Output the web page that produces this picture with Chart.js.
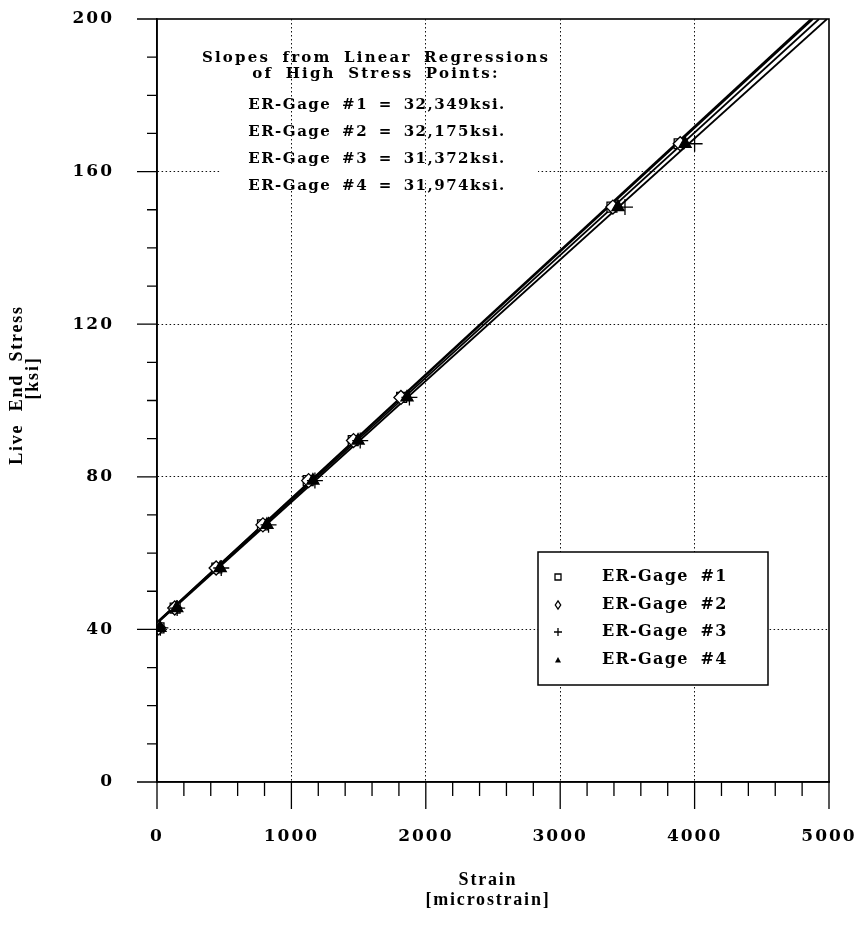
<!DOCTYPE html>
<html>
<head>
<meta charset="utf-8">
<script src="https://cdn.jsdelivr.net/npm/chart.js@4.4.0/dist/chart.umd.min.js"></script>
<style>
html,body{margin:0;padding:0;background:#fff;}
#wrap{width:858px;height:927px;position:relative;}
</style>
</head>
<body>
<div id="wrap"><canvas id="c" width="858" height="927"></canvas></div>
<script>
// ---------- data ----------
const stress = [40.4, 45.6, 56.1, 67.4, 79.0, 89.5, 100.8, 150.7, 167.3];   // ksi
const gage1Strain = [15, 135, 445, 785, 1125, 1460, 1820, 3385, 3885];
const gage2Strain = [12, 132, 440, 788, 1128, 1462, 1815, 3392, 3893];
const gage3Strain = [25, 150, 478, 830, 1175, 1512, 1878, 3482, 4000];
const gage4Strain = [22, 147, 470, 818, 1160, 1496, 1860, 3430, 3929];

// regression line end points (strain, stress)
const fit1 = [[0, 41.9], [4866, 200]];
const fit2 = [[0, 41.8], [4880, 200]];
const fit3 = [[0, 41.6], [4985, 200]];
const fit4 = [[0, 41.7], [4926, 200]];

const gageNames = ['ER-Gage #1', 'ER-Gage #2', 'ER-Gage #3', 'ER-Gage #4'];
const slopeValues = ['32,349ksi.', '32,175ksi.', '31,372ksi.', '31,974ksi.'];
const annotTitle = ['Slopes from Linear Regressions', 'of High Stress Points:'];

const strainTicks = [0, 1000, 2000, 3000, 4000, 5000];
const stressTicks = [0, 40, 80, 120, 160, 200];
const xTitle = ['Strain', '[microstrain]'];
const yTitle = ['Live End Stress', '[ksi]'];

// ---------- helpers ----------
const NUMFONT = '"DejaVu Serif", serif';
const TFONT = '"Liberation Serif", "DejaVu Serif", serif';
const toPts = (xs) => xs.map((x, i) => ({x: x, y: stress[i]}));
const toLine = (arr) => arr.map(p => ({x: p[0], y: p[1]}));

function marker(ctx, style, x, y, r) {
  ctx.save();
  ctx.strokeStyle = '#000';
  ctx.fillStyle = '#000';
  ctx.lineWidth = 1.3;
  ctx.beginPath();
  if (style === 'rect') {
    ctx.rect(x - r, y - r, 2 * r, 2 * r);
    ctx.fillStyle = '#fff'; ctx.fill(); ctx.stroke();
  } else if (style === 'rectRot') {
    ctx.moveTo(x, y - r * 1.35); ctx.lineTo(x + r * 0.9, y); ctx.lineTo(x, y + r * 1.35); ctx.lineTo(x - r * 0.9, y); ctx.closePath();
    ctx.fillStyle = '#fff'; ctx.fill(); ctx.stroke();
  } else if (style === 'cross') {
    ctx.moveTo(x - r, y); ctx.lineTo(x + r, y); ctx.moveTo(x, y - r); ctx.lineTo(x, y + r); ctx.stroke();
  } else if (style === 'triangle') {
    ctx.moveTo(x, y - r); ctx.lineTo(x + r, y + r * 0.8); ctx.lineTo(x - r, y + r * 0.8); ctx.closePath(); ctx.fill();
  }
  ctx.restore();
}

const styles = ['rect', 'rectRot', 'cross', 'triangle'];

const decor = {
  id: 'decor',
  beforeDraw(chart) {
    chart.ctx.letterSpacing = '2px';
  },
  afterDraw(chart) {
    const ctx = chart.ctx;
    const a = chart.chartArea;
    const xs = chart.scales.x, ys = chart.scales.y;
    ctx.save();
    ctx.letterSpacing = '0px';
    // frame
    ctx.strokeStyle = '#000';
    ctx.lineWidth = 1.6;
    ctx.strokeRect(a.left, a.top, a.right - a.left, a.bottom - a.top);
    // ticks
    ctx.lineWidth = 1.3;
    ctx.beginPath();
    for (let v = ys.min; v <= ys.max; v += 10) {
      const py = ys.getPixelForValue(v);
      const len = (v % 40 === 0) ? 20 : 10;
      ctx.moveTo(a.left - len, py); ctx.lineTo(a.left, py);
    }
    for (let v = xs.min; v <= xs.max; v += 200) {
      const px = xs.getPixelForValue(v);
      const len = (v % 1000 === 0) ? 27 : 14;
      ctx.moveTo(px, a.bottom); ctx.lineTo(px, a.bottom + len);
    }
    ctx.stroke();

    // axis titles
    ctx.fillStyle = '#000';
    ctx.font = 'bold 18px ' + TFONT;
    ctx.letterSpacing = '1.8px';
    ctx.wordSpacing = '6px';
    ctx.textAlign = 'center';
    ctx.textBaseline = 'middle';
    ctx.fillText(xTitle[0], 488, 880);
    ctx.fillText(xTitle[1], 488, 900);
    ctx.save();
    ctx.translate(17, 385); ctx.rotate(-Math.PI / 2);
    ctx.fillText(yTitle[0], 0, 0);
    ctx.restore();
    ctx.save();
    ctx.translate(33, 378); ctx.rotate(-Math.PI / 2);
    ctx.fillText(yTitle[1], 0, 0);
    ctx.restore();

    // slope annotation
    ctx.fillStyle = '#fff';
    ctx.fillRect(220, 164, 318, 16);
    ctx.fillStyle = '#000';
    ctx.font = 'bold 15px ' + NUMFONT;
    ctx.letterSpacing = '2.2px';
    ctx.wordSpacing = '5px';
    ctx.fillText(annotTitle[0], 376, 58);
    ctx.fillText(annotTitle[1], 376, 74);
    ctx.letterSpacing = '1.5px';
    ctx.wordSpacing = '4px';
    const rowsY = [105, 132, 159, 186];
    gageNames.forEach((n, i) => {
      ctx.fillText(n + ' = ' + slopeValues[i], 377, rowsY[i]);
    });

    // legend box
    const bx = 538, by = 552, bw = 230, bh = 133;
    ctx.fillStyle = '#fff';
    ctx.fillRect(bx, by, bw, bh);
    ctx.strokeStyle = '#000';
    ctx.lineWidth = 1.5;
    ctx.strokeRect(bx, by, bw, bh);
    ctx.font = 'bold 16px ' + NUMFONT;
    ctx.letterSpacing = '1.3px';
    ctx.wordSpacing = '5px';
    ctx.textAlign = 'left';
    ctx.fillStyle = '#000';
    const ly = [577, 605, 632, 660];
    gageNames.forEach((n, i) => {
      marker(ctx, styles[i], 558, ly[i], i === 2 ? 4 : 3);
      ctx.fillStyle = '#000';
      ctx.fillText(n, 602, ly[i]);
    });
    ctx.restore();
  }
};

const pointDs = (label, data, style, fill) => ({
  type: 'scatter', label: label, data: data, order: 0,
  pointStyle: style, pointRadius: style === 'cross' ? 8 : 7, pointHoverRadius: 7,
  pointBackgroundColor: fill, pointBorderColor: '#000', pointBorderWidth: 1.3,
  showLine: false
});
const lineDs = (label, data) => ({
  type: 'line', label: label, data: data, order: 5,
  borderColor: '#000', borderWidth: 1.8, pointRadius: 0, fill: false, tension: 0
});

const gridColor = (c) => {
  const v = c.tick ? c.tick.value : null;
  const sc = c.scale;
  return (v === sc.min || v === sc.max) ? 'rgba(0,0,0,0)' : '#111';
};
const zeroPad = (s) => { s.paddingLeft = 0; s.paddingRight = 0; s.paddingTop = 0; s.paddingBottom = 0; };

new Chart(document.getElementById('c'), {
  data: {
    datasets: [
      pointDs(gageNames[3], toPts(gage4Strain), 'triangle', '#000'),
      pointDs(gageNames[2], toPts(gage3Strain), 'cross', '#000'),
      pointDs(gageNames[1], toPts(gage2Strain), 'rectRot', '#fff'),
      pointDs(gageNames[0], toPts(gage1Strain), 'rect', '#fff'),
      lineDs('fit1', toLine(fit1)),
      lineDs('fit2', toLine(fit2)),
      lineDs('fit3', toLine(fit3)),
      lineDs('fit4', toLine(fit4))
    ]
  },
  options: {
    responsive: false,
    animation: false,
    layout: {autoPadding: false, padding: {top: 19, right: 29, left: 0, bottom: 0}},
    plugins: {legend: {display: false}, tooltip: {enabled: false}},
    scales: {
      x: {
        type: 'linear', min: 0, max: 5000,
        afterFit: (s) => { s.height = 145; zeroPad(s); },
        afterBuildTicks: (s) => { s.ticks = strainTicks.map(v => ({value: v})); },
        ticks: {padding: 44, color: '#000', font: {family: NUMFONT, size: 17, weight: 'bold'}, maxRotation: 0,
                callback: (v) => String(v)},
        grid: {drawTicks: false, color: gridColor, lineWidth: 1},
        border: {display: true, color: '#000', width: 1.6, dash: [1.5, 2.5]}
      },
      y: {
        type: 'linear', min: 0, max: 200,
        afterFit: (s) => { s.width = 157; zeroPad(s); },
        afterBuildTicks: (s) => { s.ticks = stressTicks.map(v => ({value: v})); },
        ticks: {padding: 43, color: '#000', font: {family: NUMFONT, size: 17, weight: 'bold'},
                callback: (v) => String(v)},
        grid: {drawTicks: false, color: gridColor, lineWidth: 1},
        border: {display: true, color: '#000', width: 1.6, dash: [1.5, 2.5]}
      }
    }
  },
  plugins: [decor]
});
</script>
</body>
</html>
